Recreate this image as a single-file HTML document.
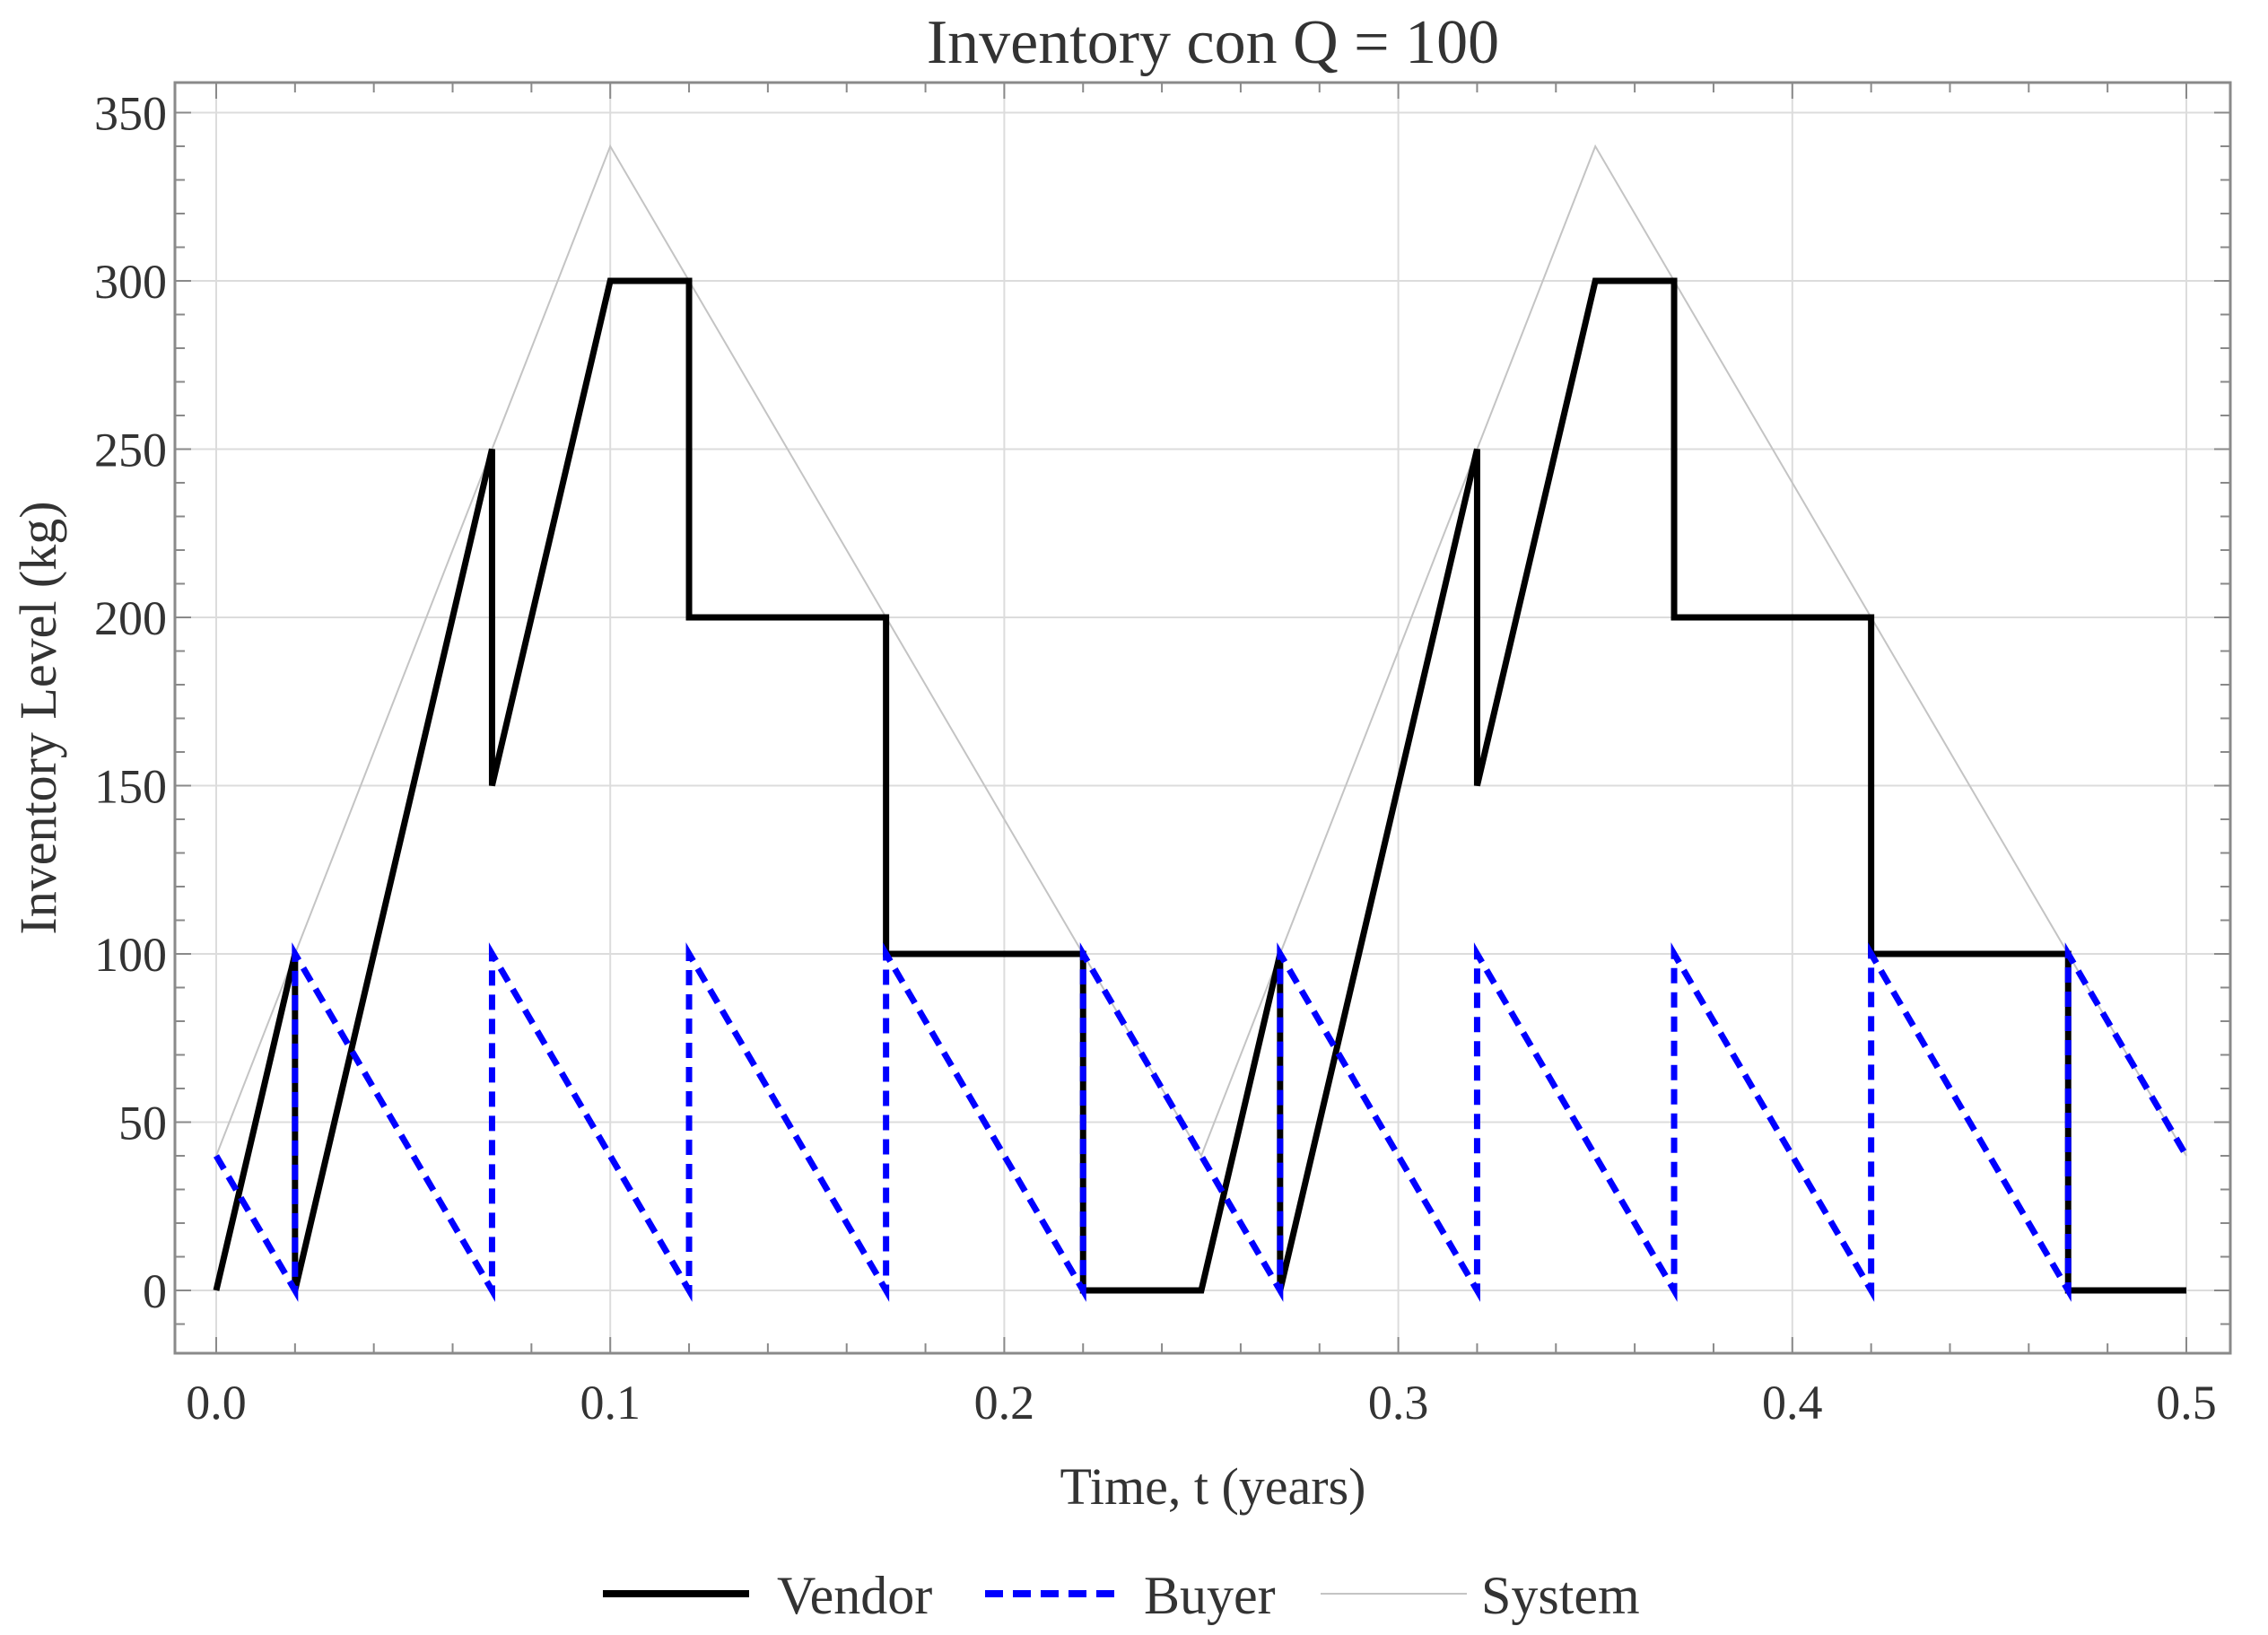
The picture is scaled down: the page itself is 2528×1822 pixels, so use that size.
<!DOCTYPE html>
<html><head><meta charset="utf-8"><style>
html,body{margin:0;padding:0;background:#fff}
svg{display:block}
text{font-family:"Liberation Serif",serif;fill:#333}
</style></head><body>
<svg id="chart" width="2528" height="1822" viewBox="0 0 2528 1822" xmlns="http://www.w3.org/2000/svg">
<text x="1352" y="70" font-size="70" text-anchor="middle">Inventory con Q = 100</text>
<g id="grid"></g>
<g id="series"></g>
<rect x="195" y="92" width="2291" height="1416" fill="none" stroke="#8a8a8a" stroke-width="3"/>
<g id="ticks"></g>
<text x="1352" y="1676" font-size="58" text-anchor="middle">Time, t (years)</text>
<text transform="translate(62,800) rotate(-90)" font-size="58" text-anchor="middle">Inventory Level (kg)</text>
<g>
 <g>
  <line x1="672" y1="1776" x2="835" y2="1776" stroke="#000" stroke-width="8"/>
  <text x="866" y="1798" font-size="60">Vendor</text>
 </g>
 <g>
  <line x1="1098" y1="1776" x2="1250" y2="1776" stroke="#0000ff" stroke-width="8" stroke-dasharray="20,11"/>
  <text x="1275" y="1798" font-size="60">Buyer</text>
 </g>
 <g>
  <line x1="1472" y1="1776" x2="1635" y2="1776" stroke="#c4c4c4" stroke-width="2"/>
  <text x="1651" y="1798" font-size="60">System</text>
 </g>
</g>
</svg>
<script>
const vendorT=[0,0.02,0.02,0.07,0.07,0.1,0.12,0.12,0.17,0.17,0.22,0.22,0.25,0.27,0.27,0.32,0.32,0.35,0.37,0.37,0.42,0.42,0.47,0.47,0.5];
const vendorQ=[0,100,0,250,150,300,300,200,200,100,100,0,0,100,0,250,150,300,300,200,200,100,100,0,0];
const buyerT=[0,0.02,0.02,0.07,0.07,0.12,0.12,0.17,0.17,0.22,0.22,0.27,0.27,0.32,0.32,0.37,0.37,0.42,0.42,0.47,0.47,0.5];
const buyerQ=[40,0,100,0,100,0,100,0,100,0,100,0,100,0,100,0,100,0,100,0,100,40];
const systemT=[0,0.02,0.07,0.1,0.12,0.17,0.22,0.25,0.27,0.32,0.35,0.37,0.42,0.47,0.5];
const systemQ=[40,100,250,340,300,200,100,40,100,250,340,300,200,100,40];
const xTicks=[0,0.1,0.2,0.3,0.4,0.5];
const xTickLabels=["0.0","0.1","0.2","0.3","0.4","0.5"];
const yTicks=[0,50,100,150,200,250,300,350];

const NS="http://www.w3.org/2000/svg";
const L=195,R=2486,T=92,B=1508;
function sx(t){return 241+t*4392;}
function sy(v){return 1438-v*3.75;}
function mk(tag,attrs,parent){const e=document.createElementNS(NS,tag);for(const k in attrs)e.setAttribute(k,attrs[k]);parent.appendChild(e);return e;}
const grid=document.getElementById('grid'),ticks=document.getElementById('ticks'),series=document.getElementById('series');
xTicks.forEach((t,i)=>{
  const g=mk('line',{x1:sx(t),x2:sx(t),y1:T,y2:B,stroke:'#dcdcdc','stroke-width':2},grid);
  
  
  const lb=mk('text',{x:sx(t),y:1581,'font-size':54,'text-anchor':'middle'},ticks);
  lb.textContent=xTickLabels[i];
  
  
});
yTicks.forEach(v=>{
  const g=mk('line',{x1:L,x2:R,y1:sy(v),y2:sy(v),stroke:'#dcdcdc','stroke-width':2},grid);
  
  
  const lb=mk('text',{x:186,y:sy(v)+19,'font-size':54,'text-anchor':'end'},ticks);
  lb.textContent=String(v);
  
  
});
for(let k=0;k<=25;k++){const t=k*0.02,x=sx(t),len=(k%5===0)?18:11;
  mk('line',{x1:x,x2:x,y1:B,y2:B-len,stroke:'#8a8a8a','stroke-width':2},ticks);
  mk('line',{x1:x,x2:x,y1:T,y2:T+len,stroke:'#8a8a8a','stroke-width':2},ticks);}
for(let v=-10;v<=350;v+=10){const y=sy(v),len=(v%50===0)?18:11;
  mk('line',{x1:L,x2:L+len,y1:y,y2:y,stroke:'#8a8a8a','stroke-width':2},ticks);
  mk('line',{x1:R,x2:R-len,y1:y,y2:y,stroke:'#8a8a8a','stroke-width':2},ticks);}
function pts(ts,qs){return ts.map((t,i)=>sx(t)+','+sy(qs[i])).join(' ');}
const sys=mk('polyline',{points:pts(systemT,systemQ),fill:'none',stroke:'#c4c4c4','stroke-width':2},series);


const ven=mk('polyline',{points:pts(vendorT,vendorQ),fill:'none',stroke:'#000','stroke-width':7,'stroke-linejoin':'miter'},series);


const buy=mk('polyline',{points:pts(buyerT,buyerQ),fill:'none',stroke:'#0000ff','stroke-width':7,'stroke-dasharray':'17,10'},series);


</script>
</body></html>
